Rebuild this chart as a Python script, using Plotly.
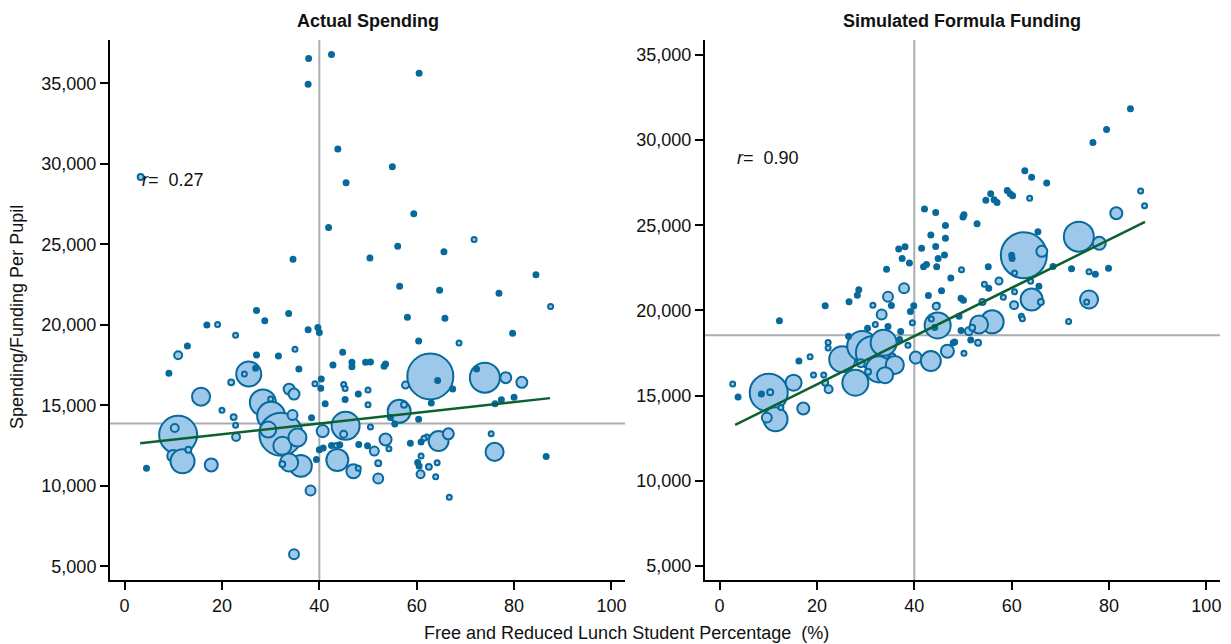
import plotly.graph_objects as go

# ---------------- data ----------------
# Actual Spending panel: FRL %, spending per pupil, enrollment
act_x = [3.3, 37.8, 42.5, 37.7, 43.8, 45.5, 41.9, 34.6, 60.5, 55.0, 59.4, 71.8, 56.1, 65.6, 50.4, 84.5, 56.5, 64.7, 76.9, 87.5,
         58.1, 65.8, 37.7, 39.7, 40.0, 79.7, 60.4, 68.7, 44.8, 42.8, 46.7, 46.7, 49.5, 50.5, 53.3, 53.6, 40.4, 62.8, 74.0, 78.3,
         81.6, 57.7, 64.3, 72.3, 67.4, 39.1, 40.3, 45.0, 45.3, 50.0, 48.0, 45.3, 50.0, 41.2, 63.0, 76.1, 77.4, 80.0, 56.4, 57.4,
         54.6, 55.5, 60.4, 45.4, 45.0, 40.7, 50.5, 38.4, 64.5, 66.5, 62.1, 61.5, 75.3, 76.0, 86.6, 53.6, 54.3, 51.3, 58.7, 60.9,
         48.1, 49.9, 42.5, 43.5, 44.2, 40.0, 40.8, 39.4, 43.7, 47.0, 48.0, 52.1, 60.9, 60.2, 60.5, 62.5, 64.2, 60.8, 63.9, 52.1,
         38.2, 66.7, 34.8, 27.1, 33.7, 28.8, 16.9, 19.1, 22.8, 12.9, 11.0, 27.1, 35.0, 31.6, 9.1, 25.5, 24.6, 26.9, 35.8, 21.9,
         15.7, 33.8, 34.8, 20.0, 22.4, 22.8, 28.4, 28.6, 30.1, 32.1, 32.4, 36.2, 33.8, 32.4, 11.0, 10.3, 10.0, 11.9, 13.1, 4.5,
         17.8, 22.9, 30.0, 34.5, 29.5, 35.5]
act_y = [29190, 36550, 36800, 34950, 30930, 28830, 26050, 24080, 35630, 29830, 26900, 25300, 24890, 24540, 24150, 23110, 22400, 22150, 21970, 21135,
         20475, 20410, 19700, 19830, 19520, 19480, 19000, 18880, 18300, 17510, 17680, 17400, 17680, 17700, 17430, 17570, 16640, 16800, 16720, 16720,
         16430, 16260, 16550, 17260, 16010, 16345, 16060, 16300, 16050, 15950, 15700, 15370, 15040, 15100, 15140, 15100, 15350, 15500, 14630, 15040,
         14250, 13840, 14130, 13730, 13210, 13400, 13650, 14230, 12780, 13230, 13030, 12950, 13230, 12110, 11830, 12880, 12300, 12160, 12650, 12720,
         12570, 12490, 12500, 12500, 12550, 12250, 12350, 11640, 11600, 10910, 11100, 11410, 11860, 11450, 11240, 11180, 11430, 10725, 10560, 10460,
         9710, 9290, 5750, 20890, 20700, 20250, 20000, 20020, 19350, 18690, 18110, 18130, 18480, 18070, 16990, 16950, 16950, 17300, 17260, 16430,
         15540, 16010, 15700, 14700, 14270, 13770, 15180, 14900, 14350, 13210, 12490, 11240, 11450, 11350, 13170, 13590, 11860, 11530, 12240, 11100,
         11300, 13030, 15400, 14400, 13500, 13000]
act_enroll = [1000, 250, 110, 110, 110, 110, 110, 110, 110, 110, 250, 450, 110, 110, 110, 110, 110, 110, 110, 700,
              110, 110, 110, 110, 110, 110, 110, 450, 110, 110, 250, 110, 250, 250, 110, 110, 110, 60000, 25500, 3400,
              3400, 1400, 110, 110, 110, 450, 110, 450, 450, 450, 250, 110, 450, 110, 110, 110, 110, 110, 15000, 1000,
              250, 250, 110, 22200, 1400, 4100, 450, 110, 11300, 3400, 700, 450, 450, 9200, 250, 4100, 700, 2300, 250, 250,
              250, 250, 250, 450, 250, 250, 250, 110, 13700, 5600, 450, 1000, 450, 110, 110, 1000, 450, 1800, 450, 2800,
              2800, 450, 2800, 110, 110, 110, 250, 450, 450, 110, 1800, 110, 450, 250, 250, 17700, 450, 110, 250, 1000,
              9200, 3400, 3400, 450, 1000, 450, 19200, 450, 22200, 52400, 9200, 13700, 9200, 1000, 41000, 1800, 4100, 16300, 1000, 250,
              4800, 1800, 450, 2800, 7300, 9200]

# Simulated Formula Funding panel
sim_x = [42.1, 44.4, 46.4, 43.4, 46.4, 36.8, 38.1, 41.5, 44.4, 37.5, 39.0, 44.9, 46.2, 41.9, 42.5, 44.6, 34.3, 47.5, 37.9, 28.6,
         28.3, 26.6, 21.7, 34.6, 31.5, 35.3, 39.9, 42.9, 45.6, 44.7, 33.3, 39.2, 39.6, 32.0, 34.6, 30.4, 37.2, 44.8, 44.2, 43.5,
         12.3, 22.3, 22.3, 25.2, 29.3, 31.4, 33.7, 32.7, 27.9, 35.5, 37.0, 26.5, 16.3, 18.6, 19.3, 21.4, 21.7, 22.4, 40.3, 43.4,
         46.8, 48.3, 10.1, 10.4, 8.6, 15.2, 11.5, 9.7, 12.6, 2.7, 3.8, 17.2, 84.4, 79.5, 76.7, 62.7, 64.1, 67.2, 59.1, 59.7,
         60.2, 63.7, 55.7, 54.7, 56.4, 57.0, 50.2, 50.0, 52.9, 65.4, 86.5, 87.3, 81.5, 73.8, 78.0, 62.5, 66.2, 60.0, 60.1, 55.2,
         49.7, 68.5, 72.3, 75.9, 77.2, 79.9, 60.6, 63.9, 57.4, 54.4, 55.3, 65.6, 60.6, 64.1, 66.0, 58.3, 60.5, 62.0, 62.2, 75.9,
         75.4, 71.7, 54.0, 56.0, 53.3, 49.6, 50.1, 49.2, 44.5, 51.2, 51.9, 53.1, 51.6, 49.6, 48.0, 50.2, 38.7, 36.0, 30.5, 34.0,
         29.0]
sim_y = [25955, 25740, 24980, 24430, 24230, 23610, 23730, 23650, 23750, 23040, 22790, 23040, 23260, 22570, 22690, 22560, 22420, 21910, 21300, 21210,
         20890, 20510, 20270, 20800, 20310, 20290, 20270, 20880, 21150, 20310, 19760, 19940, 19280, 19180, 19060, 18960, 18770, 19120, 19000, 19500,
         19390, 18120, 17790, 17130, 17910, 17520, 18100, 16540, 15760, 17300, 18300, 18490, 17030, 17280, 16210, 16210, 15760, 15370, 17230, 17030,
         17610, 18140, 15175, 15200, 15100, 15760, 13610, 13710, 14300, 15680, 14920, 14240, 31830, 30620, 29860, 28200, 27810, 27480, 27040, 26850,
         26730, 26580, 26850, 26460, 26500, 26340, 25620, 25490, 25080, 24610, 27010, 26150, 25700, 24330, 23940, 23240, 23470, 23240, 23050, 22560,
         22380, 22580, 22440, 22270, 22130, 22480, 22200, 21710, 21730, 21540, 21300, 21420, 21090, 20640, 20500, 20780, 20310, 19660, 19510, 20640,
         20500, 19350, 20490, 19330, 19180, 20720, 20600, 19660, 20250, 18780, 18980, 18100, 18260, 18820, 18100, 17490, 17960, 16800, 16400, 16200,
         16900]
sim_enroll = [110, 110, 250, 110, 250, 250, 250, 110, 250, 110, 250, 110, 110, 250, 110, 250, 110, 250, 2800, 110,
              110, 110, 110, 2800, 700, 110, 250, 250, 250, 700, 2800, 110, 450, 450, 250, 110, 110, 19200, 250, 700,
              110, 450, 450, 19200, 25500, 30900, 19200, 19200, 19200, 1000, 250, 250, 110, 450, 450, 450, 1000, 1800, 4100, 11300,
              4800, 450, 41000, 1000, 110, 7300, 16300, 2800, 450, 700, 250, 4100, 250, 110, 250, 250, 110, 110, 250, 110,
              110, 700, 110, 110, 110, 250, 250, 110, 250, 110, 700, 700, 4100, 25500, 4800, 60000, 3400, 250, 110, 250,
              450, 250, 110, 450, 250, 250, 700, 450, 1400, 700, 250, 110, 700, 13700, 1000, 700, 1800, 700, 700, 9200,
              450, 700, 1000, 15000, 9200, 110, 110, 110, 1400, 1800, 1000, 1000, 250, 110, 250, 700, 450, 9200, 1000, 7300,
              1800]

# fitted lines (endpoints) and r values
fit_x = [3.2, 87.4]
fit_act = [12650, 15450]
fit_sim = [13280, 25200]
r_act = "0.27"
r_sim = "0.90"
# reference (mean) lines
ref_x = [40, 40]
ref_y = [13880, 18540]

x_ticks = [0, 20, 40, 60, 80, 100]
y_ticks = [5000, 10000, 15000, 20000, 25000, 30000, 35000]

# ---------------- style ----------------
FONT = "Liberation Sans, Arial, Helvetica, sans-serif"
FILL = "#9DC8EA"
EDGE = "#07699C"
GREEN = "#0B6130"
GREY = "#A9AEB1"
max_enroll = max(act_enroll + sim_enroll)
sizeref = 2.0 * max_enroll / (46 ** 2)


def fills(enroll):
    # very small districts render as solid dots
    return [EDGE if e <= 250 else FILL for e in enroll]


fig = go.Figure()
for xs, ys, en, xa, ya in [(act_x, act_y, act_enroll, "x", "y"), (sim_x, sim_y, sim_enroll, "x2", "y2")]:
    fig.add_trace(go.Scatter(
        x=xs, y=ys, mode="markers", xaxis=xa, yaxis=ya, showlegend=False,
        marker=dict(size=en, sizemode="area", sizeref=sizeref, sizemin=2.5,
                    color=fills(en), opacity=1, line=dict(color=EDGE, width=2)),
        hoverinfo="skip"))
for fy, xa, ya in [(fit_act, "x", "y"), (fit_sim, "x2", "y2")]:
    fig.add_trace(go.Scatter(x=fit_x, y=fy, mode="lines", xaxis=xa, yaxis=ya, showlegend=False,
                             line=dict(color=GREEN, width=2.5), hoverinfo="skip"))

# reference lines
for i, (xr, yr) in enumerate(zip(ref_x, ref_y)):
    xa = "x" if i == 0 else "x2"
    ya = "y" if i == 0 else "y2"
    fig.add_shape(type="line", xref=xa, yref=ya + " domain", x0=xr, x1=xr, y0=0, y1=1,
                  line=dict(color=GREY, width=2), layer="below")
    fig.add_shape(type="line", xref=xa + " domain", yref=ya, x0=0, x1=1, y0=yr, y1=yr,
                  line=dict(color=GREY, width=2), layer="below")

axis_common = dict(showline=True, linecolor="black", linewidth=2, ticks="outside", ticklen=8,
                   tickwidth=2, tickcolor="black", showgrid=False, zeroline=False,
                   tickfont=dict(family=FONT, size=18, color="#111"))
fig.update_layout(
    width=1223, height=636,
    margin=dict(l=102, r=11, t=32, b=64),
    paper_bgcolor="white", plot_bgcolor="white",
    font=dict(family=FONT, size=18, color="#111"),
    xaxis=dict(domain=[0, 0.464], range=[-3, 102.8], tickvals=x_ticks, anchor="y", **axis_common),
    yaxis=dict(domain=[0, 1], range=[4150, 37700], tickvals=y_ticks, tickformat=",d", anchor="x", **axis_common),
    xaxis2=dict(domain=[0.536, 1], range=[-3, 102.8], tickvals=x_ticks, anchor="y2", **axis_common),
    yaxis2=dict(domain=[0, 1], range=[4180, 35870], tickvals=y_ticks, tickformat=",d", anchor="x2", **axis_common),
)

ann = []
ann.append(dict(text="<b>Actual Spending</b>", xref="paper", yref="paper", x=0.232, y=1,
                xanchor="center", yanchor="bottom",
                yshift=7, showarrow=False, font=dict(family=FONT, size=18, color="#111")))
ann.append(dict(text="<b>Simulated Formula Funding</b>", xref="paper", yref="paper", x=0.768, y=1,
                xanchor="center", yanchor="bottom",
                yshift=7, showarrow=False, font=dict(family=FONT, size=18, color="#111")))
ann.append(dict(text="<i>r</i>=  " + r_act, xref="x", yref="y", x=fit_x[0], y=29000, xanchor="left",
                showarrow=False, font=dict(family=FONT, size=18, color="#111")))
ann.append(dict(text="<i>r</i>=  " + r_sim, xref="x2", yref="y2", x=fit_x[0], y=28950, xanchor="left",
                showarrow=False, font=dict(family=FONT, size=18, color="#111")))
ann.append(dict(text="Spending/Funding Per Pupil", xref="paper", yref="paper", x=-0.0838, y=0.487,
                xanchor="center", yanchor="middle",
                textangle=-90, showarrow=False, font=dict(family=FONT, size=18, color="#111")))
ann.append(dict(text="Free and Reduced Lunch Student Percentage  (%)", xref="paper", yref="paper",
                x=0.465, y=0, xanchor="center", yanchor="middle", yshift=-53, showarrow=False,
                font=dict(family=FONT, size=18, color="#111")))
fig.update_layout(annotations=ann)

fig.write_html("out.html")
